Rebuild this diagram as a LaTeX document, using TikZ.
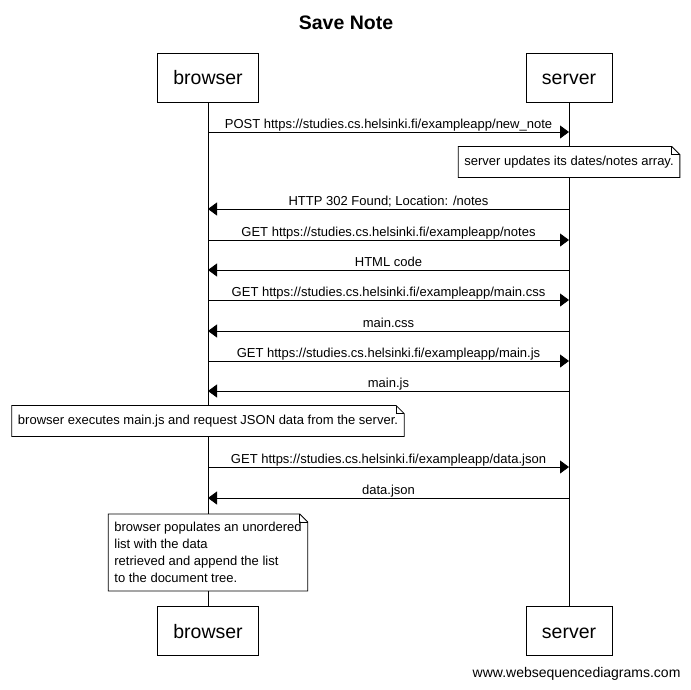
\documentclass[tikz,border=0pt]{standalone}
\usepackage{fontspec}
\setmainfont{Liberation Sans}
\usetikzlibrary{arrows.meta,calc}

\begin{document}
\begin{tikzpicture}[x=1pt,y=-1pt,>={Triangle[length=9pt,width=13pt]},
        actor/.style={draw,line width=0.8pt,minimum height=49pt,inner xsep=16pt,
            text height=17pt,text depth=3pt,font=\fontsize{19.5}{23}\selectfont},
        msg/.style={line width=0.8pt,->},
        msglabel/.style={above,inner sep=0.7pt,text height=9.5pt,text depth=2.5pt,
            font=\fontsize{13}{17}\selectfont},
        notebox/.style={fill=white,inner xsep=6pt,inner ysep=8pt,align=left,
            font=\fontsize{13}{17}\selectfont},
        oneline/.style={text height=9.5pt,text depth=3pt,inner ysep=9pt}]
            % page frame
            \useasboundingbox (0,0) rectangle (691,689);

            % title
            \node[font=\bfseries\fontsize{19.5}{23}\selectfont] (title) at (346,22.5) {Save Note};

            % participants at the top and at the bottom
            \node[actor] (browser) at (208,77.5) {browser};
            \node[actor] (server) at (569,77.5) {server};
            \node[actor] (browserend) at (208,631) {browser};
            \node[actor] (serverend) at (569,631) {server};

            % lifelines
            \draw[line width=0.8pt] (browser) -- (browserend);
            \draw[line width=0.8pt] (server) -- (serverend);

            % messages
            \foreach \i/\y/\from/\to/\txt in {
                1/132/b/s/{POST https://studies.cs.helsinki.fi/exampleapp/new\_note},
                2/209/s/b/{HTTP 302 Found; Location: /notes},
                3/240/b/s/{GET https://studies.cs.helsinki.fi/exampleapp/notes},
                4/270/s/b/{HTML code},
                5/300/b/s/{GET https://studies.cs.helsinki.fi/exampleapp/main.css},
                6/331/s/b/{main.css},
                7/361/b/s/{GET https://studies.cs.helsinki.fi/exampleapp/main.js},
                8/391/s/b/{main.js},
                9/467/b/s/{GET https://studies.cs.helsinki.fi/exampleapp/data.json},
                10/498/s/b/{data.json}}
            {
                \coordinate (b\i) at (208,\y);
                \coordinate (s\i) at (569,\y);
                \draw[msg] (\from\i) -- (\to\i) node[msglabel,midway] {\txt};
            }

            % notes
            \node[notebox,oneline] (note1) at (569,162) {server updates its dates/notes array.};
            \node[notebox,oneline] (note2) at (208,421) {browser executes main.js and request JSON data from the server.};
            \node[notebox] (note3) at (208,552.5) {browser populates an unordered\\list with the data\\retrieved and append the list\\to the document tree.};
            \foreach \n in {note1,note2,note3}
            {
                \draw[line width=0.8pt] (\n.north west) -- ($(\n.north east)+(-8,0)$)
                    -- ($(\n.north east)+(0,8)$) -- (\n.south east) -- (\n.south west) -- cycle;
                \draw[line width=0.8pt] ($(\n.north east)+(-8,0)$) -- ($(\n.north east)+(-8,8)$)
                    -- ($(\n.north east)+(0,8)$);
            }

            % footer
            \node[anchor=east,font=\fontsize{14}{17}\selectfont] (footer) at (684,674) {www.websequencediagrams.com};
        \end{tikzpicture}
\end{document}
